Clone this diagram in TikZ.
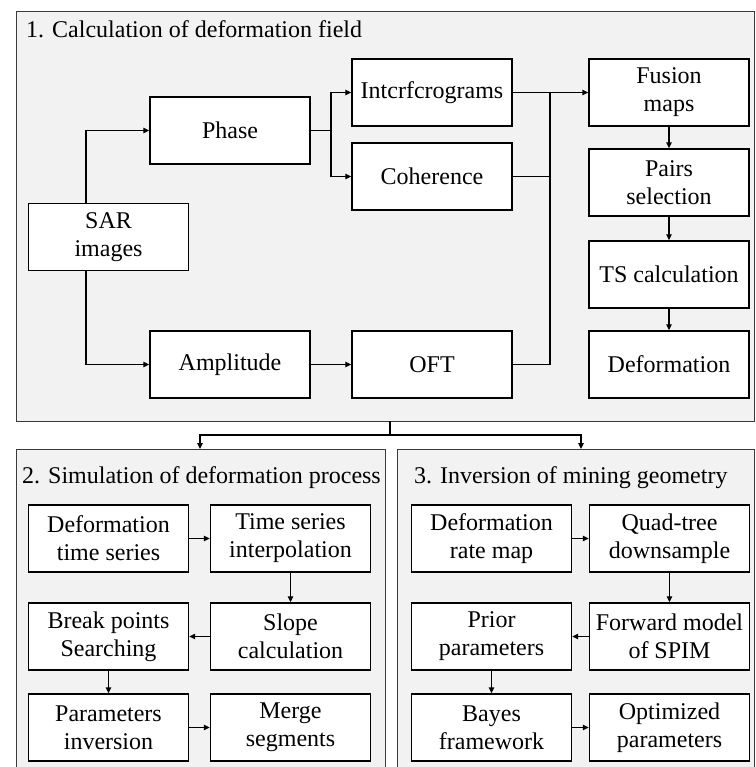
\documentclass[tikz,border=0pt]{standalone}
\usepackage{fontspec}
\setmainfont{Liberation Serif}
\usetikzlibrary{arrows.meta}
\definecolor{panelgray}{HTML}{F2F2F2}
\definecolor{framegray}{HTML}{3A3A3A}

\begin{document}
\begin{tikzpicture}
[x=1pt,y=-1pt,>={Triangle[length=6pt,width=5.5pt]},
 every node/.style={font=\fontsize{24}{28}\selectfont},
 stepbox/.style={draw,line width=1.4pt,fill=white,minimum width=160pt,minimum height=67pt,inner sep=0pt,align=center},
 panel/.style={draw=framegray,line width=0.9pt,fill=panelgray},
 flow/.style={line width=1.2pt}]
\useasboundingbox (0,0) rectangle (755,767);
\fill[white] (0,0) rectangle (755,767);
% panels
\draw[panel] (16,11) rectangle (754,421);
\draw[panel] (16,449) rectangle (385,780);
\draw[panel] (397,449) rectangle (754,780);
\node[anchor=base west,inner sep=0pt] (t1) at (26,38) {1. Calculation of deformation field};
\node[anchor=base west,inner sep=0pt] (t2) at (22,483) {2. Simulation of deformation process};
\node[anchor=base west,inner sep=0pt] (t3) at (414,483) {3. Inversion of mining geometry};
% part 1
\node[stepbox] (sar) at (108.5,237) {SAR\\images};
\node[stepbox] (phase) at (230,130.5) {Phase};
\node[stepbox] (amp) at (230,364.5) {Amplitude};
\node[stepbox] (ifg) at (432,92.5) {Intcrfcrograms};
\node[stepbox] (coh) at (432,176.5) {Coherence};
\node[stepbox] (oft) at (432,364.5) {OFT};
\node[stepbox] (fus) at (669,92.5) {Fusion\\maps};
\node[stepbox] (pairs) at (669,182.5) {Pairs\\selection};
\node[stepbox] (tsc) at (669,274.5) {TS calculation};
\node[stepbox] (defo) at (669,364.5) {Deformation};
% part 2
\node[stepbox] (dts) at (108.5,538.5) {Deformation\\time series};
\node[stepbox] (tsi) at (290.5,538.5) {Time series\\interpolation};
\node[stepbox] (slope) at (290.5,636.5) {Slope\\calculation};
\node[stepbox] (bps) at (108.5,636.5) {Break points\\Searching};
\node[stepbox] (pinv) at (108.5,727.5) {Parameters\\inversion};
\node[stepbox] (merge) at (290.5,727.5) {Merge\\segments};
% part 3
\node[stepbox] (drm) at (491.5,538.5) {Deformation\\rate map};
\node[stepbox] (quad) at (669.5,538.5) {Quad-tree\\downsample};
\node[stepbox] (fwd) at (669.5,636.5) {Forward model\\of SPIM};
\node[stepbox] (prior) at (491.5,636.5) {Prior\\parameters};
\node[stepbox] (bayes) at (491.5,727.5) {Bayes\\framework};
\node[stepbox] (opt) at (669.5,727.5) {Optimized\\parameters};
% junctions
\coordinate (sarup) at (86,203);
\coordinate (sardn) at (86,271);
\coordinate (split) at (331,130.5);
\coordinate (join) at (550,92.5);
\coordinate (out) at (390,421);
\coordinate (fork) at (390,435);
\coordinate (in2) at (200,449);
\coordinate (in3) at (581,449);
% connectors
\draw[flow,->] (sarup) |- (phase);
\draw[flow,->] (sardn) |- (amp);
\draw[flow] (phase) -- (split);
\draw[flow,->] (split) |- (ifg);
\draw[flow,->] (split) |- (coh);
\draw[flow] (coh) -| (join);
\draw[flow] (oft) -| (join);
\foreach \from/\to in {amp/oft,ifg/fus,fus/pairs,pairs/tsc,tsc/defo,
  dts/tsi,tsi/slope,slope/bps,bps/pinv,pinv/merge,
  drm/quad,quad/fwd,fwd/prior,prior/bayes,bayes/opt}
  \draw[flow,->] (\from) -- (\to);
\draw[flow] (out) -- (fork);
\draw[flow,->] (fork) -| (in2);
\draw[flow,->] (fork) -| (in3);
\end{tikzpicture}
\end{document}
